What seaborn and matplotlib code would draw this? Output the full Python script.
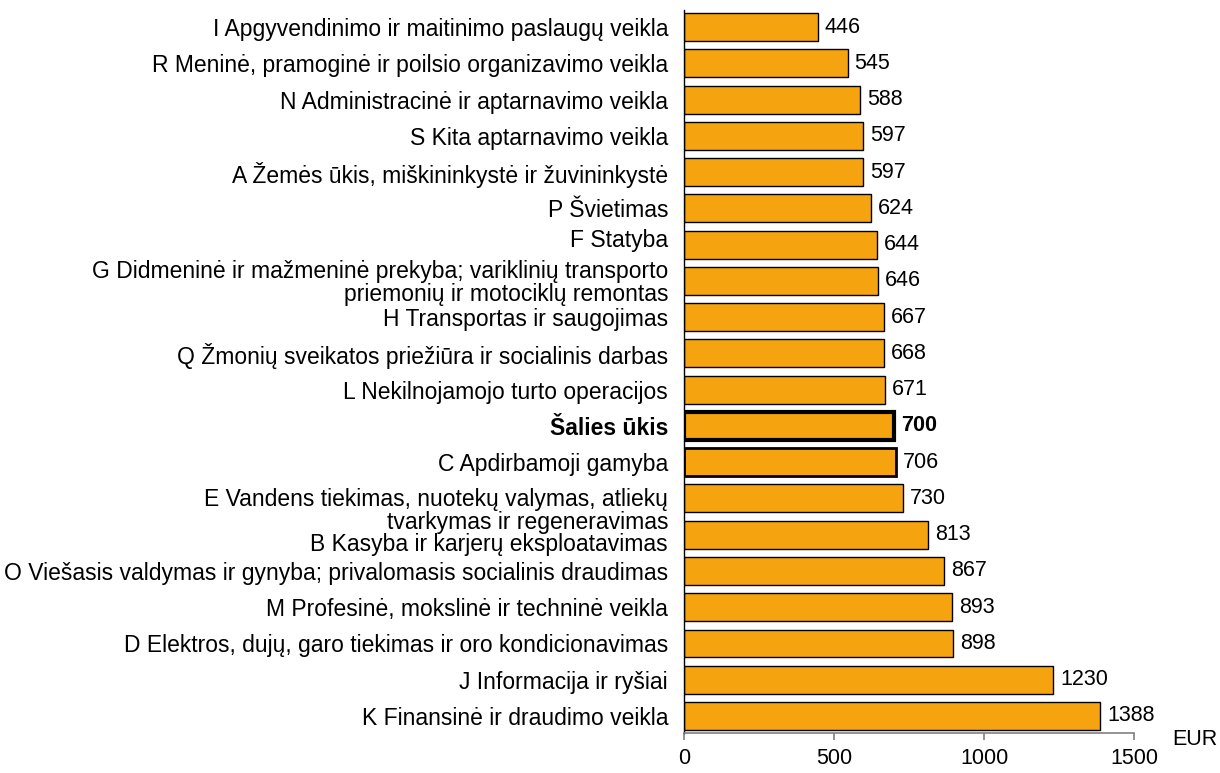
import matplotlib
matplotlib.use("Agg")
import matplotlib.pyplot as plt
import matplotlib.transforms as mtransforms
import seaborn as sns
import pandas as pd

categories = [
    "I Apgyvendinimo ir maitinimo paslaugų veikla",
    "R Meninė, pramoginė ir poilsio organizavimo veikla",
    "N Administracinė ir aptarnavimo veikla",
    "S Kita aptarnavimo veikla",
    "A Žemės ūkis, miškininkystė ir žuvininkystė",
    "P Švietimas",
    "F Statyba",
    "G Didmeninė ir mažmeninė prekyba; variklinių transporto\npriemonių ir motociklų remontas",
    "H Transportas ir saugojimas",
    "Q Žmonių sveikatos priežiūra ir socialinis darbas",
    "L Nekilnojamojo turto operacijos",
    "Šalies ūkis",
    "C Apdirbamoji gamyba",
    "E Vandens tiekimas, nuotekų valymas, atliekų\ntvarkymas ir regeneravimas",
    "B Kasyba ir karjerų eksploatavimas",
    "O Viešasis valdymas ir gynyba; privalomasis socialinis draudimas",
    "M Profesinė, mokslinė ir techninė veikla",
    "D Elektros, dujų, garo tiekimas ir oro kondicionavimas",
    "J Informacija ir ryšiai",
    "K Finansinė ir draudimo veikla",
]
values = [446, 545, 588, 597, 597, 624, 644, 646, 667, 668, 671, 700, 706, 730, 813, 867, 893, 898, 1230, 1388]
x_ticks = [0, 500, 1000, 1500]

df = pd.DataFrame({"cat": categories, "val": values})

sns.set_style("white")
plt.rcParams["font.family"] = ["Liberation Sans", "DejaVu Sans"]
plt.rcParams["text.color"] = "black"
plt.rcParams["xtick.labelcolor"] = "black"
plt.rcParams["ytick.labelcolor"] = "black"

fs = 16.5
fs_small = 15.5

fig = plt.figure(figsize=(12.2, 7.73), dpi=100)
ax = fig.add_axes([0.5607, 0.0517, 0.3688, 0.9353])

sns.barplot(data=df, x="val", y="cat", orient="h", color="#F5A30E",
            saturation=1, edgecolor="black", linewidth=1, width=0.77, ax=ax)

# thicker outlines for the national total and manufacturing
for i, p in enumerate(ax.patches):
    if categories[i] == "Šalies ūkis":
        p.set_linewidth(3)
    elif categories[i].startswith("C "):
        p.set_linewidth(2)

ax.set_xlim(0, 1500)
ax.set_ylim(19.47, -0.47)
ax.set_xticks(x_ticks)
ax.set_xlabel("")
ax.set_ylabel("")

for s in ["top", "right"]:
    ax.spines[s].set_visible(False)
ax.spines["left"].set_color("black")
ax.spines["left"].set_linewidth(1)
ax.spines["bottom"].set_color("#808080")
ax.spines["bottom"].set_linewidth(1.2)

ax.tick_params(axis="x", direction="out", length=5, width=1.2, color="#808080",
               labelsize=fs_small, pad=6, bottom=True)
ax.tick_params(axis="y", length=0, labelsize=fs, pad=11.5)

# small vertical shifts of some labels, as in the original layout
shifts = {"F Statyba": 7, "E Vandens": -10, "B Kasyba": -7}
for lab in ax.get_yticklabels():
    lab.set_horizontalalignment("right")
    lab.set_multialignment("right")
    lab.set_linespacing(1.0)
    if lab.get_text() == "Šalies ūkis":
        lab.set_fontweight("bold")
    for key, dy in shifts.items():
        if lab.get_text().startswith(key):
            lab.set_transform(lab.get_transform() +
                              mtransforms.ScaledTranslation(0, dy / 100, fig.dpi_scale_trans))

for i, v in enumerate(values):
    bold = categories[i] == "Šalies ūkis"
    ax.annotate(str(v), (v, i), xytext=(5, 0), textcoords="offset points",
                va="center", ha="left", fontsize=fs_small,
                fontweight="bold" if bold else "normal")

fig.text(0.979, 0.043, "EUR", ha="center", va="center", fontsize=fs_small)

fig.savefig("out.png", dpi=100, facecolor="white")
